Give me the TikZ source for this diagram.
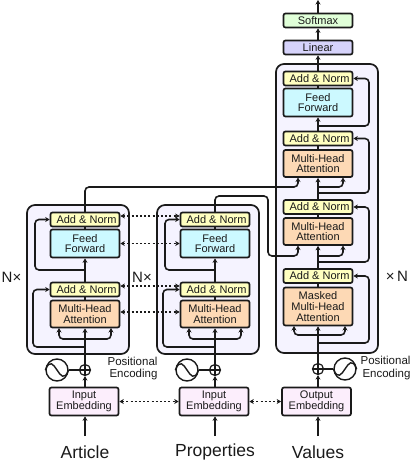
\documentclass[tikz,border=0pt]{standalone}
\usepackage{fontspec}
\setmainfont{Liberation Sans}
\usetikzlibrary{arrows.meta}
\definecolor{inkc}{HTML}{1A1A1A}
\definecolor{framec}{HTML}{F5F3FF}
\definecolor{addfill}{HTML}{FFFFC0}
\definecolor{fffill}{HTML}{CCF9FF}
\definecolor{mhafill}{HTML}{FDD9B5}
\definecolor{embfill}{HTML}{FCEEFC}
\definecolor{linfill}{HTML}{D6D3FB}
\definecolor{softfill}{HTML}{E0FFD8}
\newcommand\addnorm{\hspace*{3pt}Add \& Norm}
\tikzset{
  x=1pt,y=-1pt,
  every node/.style={text=inkc},
  tip/.tip={Stealth[length=4.5pt,width=5pt]},
  basebox/.style={draw=inkc,line width=1.7pt,rounded corners=2pt,inner sep=0pt,align=center,minimum width=69pt,font=\fontsize{11}{10.7}\selectfont},
  addbox/.style={basebox,fill=addfill,minimum height=14pt},
  ffbox/.style={basebox,fill=fffill,minimum height=28pt},
  mhabox/.style={basebox,fill=mhafill,minimum height=27pt},
  embbox/.style={basebox,fill=embfill,minimum height=28pt},
  framebox/.style={draw=inkc,line width=1.7pt,fill=framec,rounded corners=8pt},
  conn/.style={draw=inkc,line width=1.6pt,-{tip}},
  plainconn/.style={draw=inkc,line width=1.6pt},
  route/.style={conn,rounded corners=4pt},
  dots/.style={draw=inkc,line width=1.1pt,{tip}-{tip},dash pattern=on 2pt off 2.2pt},
  sinec/.style={circle,draw=inkc,line width=1.4pt,minimum size=22pt,inner sep=0pt},
  sumc/.style={circle,draw=inkc,line width=1.2pt,minimum size=11pt,inner sep=0pt},
  caption/.style={font=\fontsize{11.5}{12.8}\selectfont,align=right},
  bigtext/.style={font=\fontsize{17.5}{18}\selectfont},
  nlabel/.style={font=\fontsize{15}{15}\selectfont},
}
\begin{document}
\begin{tikzpicture}
\path[use as bounding box] (0,0) rectangle (418,462);

% encoders
\foreach \p/\dx in {a/0,b/130}{
\begin{scope}[shift={(\dx,0)},name prefix=\p-]
  \draw[framebox] (27,205) rectangle (129,354);
  \node[addbox] (an2) at (85,219.5) {\addnorm};
  \node[ffbox] (ff) at (85,243.5) {Feed\\Forward};
  \node[addbox] (an1) at (85,289.5) {\addnorm};
  \node[mhabox] (mha) at (85,314) {Multi-Head\\Attention};
  \node[embbox] (emb) at (84,401.5) {Input\\Embedding};
  \node[sumc] (sum) at (85,370) {};
  \node[sinec] (sin) at (57,370) {};
  \coordinate (in) at (85,436);
  \coordinate (t1) at (85,270);
  \coordinate (t2) at (35,270);
  \coordinate (t3) at (35,219.5);
  \coordinate (l1) at (85,347);
  \coordinate (l2) at (33,347);
  \coordinate (l3) at (33,289.5);
  \coordinate (s0) at (85,339);
  \coordinate (sl) at (59,339);
  \coordinate (sr) at (111,339);
  \coordinate (slt) at (59,328);
  \coordinate (srt) at (111,328);
  \coordinate (exit) at (85,205);
  \draw[conn] (in) -- (emb.south -| in);
  \draw[conn] (emb.north -| sum) -- (sum.south);
  \draw[plainconn] (sum.south) -- (sum.north);
  \draw[plainconn] (sum.west) -- (sum.east);
  \draw[plainconn] (sin.east) -- (sum.west);
  \draw[line width=1.4pt,draw=inkc] (sin.west) .. controls +(9,-22) and +(-9,22) .. (sin.east);
  \draw[conn] (sum.north) -- (mha.south);
  \draw[plainconn] (mha.north) -- (an1.south);
  \draw[conn] (an1.north) -- (ff.south);
  \draw[plainconn] (ff.north) -- (an2.south);
  \draw[plainconn] (an2.north) -- (exit);
  \draw[route] (t1) -- (t2) -- (t3) -- (an2.west);
  \draw[route] (l1) -- (l2) -- (l3) -- (an1.west);
  \draw[route] (s0) -- (sl) -- (slt);
  \draw[route] (s0) -- (sr) -- (srt);
\end{scope}
}

% decoder
\draw[framebox] (276,64) rectangle (378,353);
\node[basebox,fill=softfill,minimum height=14pt] (soft) at (318,20.5) {Softmax};
\node[basebox,fill=linfill,minimum height=14pt] (lin) at (318,47.5) {Linear};
\node[addbox] (d4) at (318,78.5) {\addnorm};
\node[ffbox] (dff) at (318,102.5) {Feed\\Forward};
\node[addbox] (d3) at (318,138.5) {\addnorm};
\node[mhabox] (dm2) at (318,163.5) {Multi-Head\\Attention};
\node[addbox] (d2) at (318,207) {\addnorm};
\node[mhabox] (dm1) at (318,231.5) {Multi-Head\\Attention};
\node[addbox] (d1) at (318,276) {\addnorm};
\node[basebox,fill=mhafill,minimum height=38pt] (dm0) at (318,306.5) {Masked\\Multi-Head\\Attention};
\node[embbox] (oemb) at (316.5,401.5) {Output\\Embedding};
\node[sumc] (osum) at (318,369) {};
\node[sinec] (osin) at (345,369) {};
\coordinate (oin) at (318,436);
\coordinate (top) at (318,0);
\coordinate (dtop) at (318,64);

\draw[conn] (soft.north) -- (top);
\draw[conn] (lin.north) -- (soft.south);
\draw[conn] (dtop) -- (lin.south);
\draw[plainconn] (d4.north) -- (dtop);
\draw[plainconn] (dff.north) -- (d4.south);
\draw[conn] (d3.north) -- (dff.south);
\draw[plainconn] (dm2.north) -- (d3.south);
\draw[plainconn] (dm1.north) -- (d2.south);
\draw[plainconn] (dm0.north) -- (d1.south);
\draw[conn] (d2.north) -- (dm2.south);
\draw[conn] (d1.north) -- (dm1.south);
\draw[conn] (osum.north) -- (dm0.south);
\draw[conn] (oin) -- (oemb.south -| oin);
\draw[conn] (oemb.north -| osum) -- (osum.south);
\draw[plainconn] (osum.south) -- (osum.north);
\draw[plainconn] (osum.west) -- (osum.east);
\draw[plainconn] (osin.west) -- (osum.east);
\draw[line width=1.4pt,draw=inkc] (osin.west) .. controls +(9,22) and +(-9,-22) .. (osin.east);

% decoder residual loops
\coordinate (r4a) at (318,126);
\coordinate (r4b) at (369,126);
\coordinate (r4c) at (369,78.5);
\coordinate (r3a) at (318,193);
\coordinate (r3b) at (369,193);
\coordinate (r3c) at (369,138.5);
\coordinate (r2a) at (318,262);
\coordinate (r2b) at (369,262);
\coordinate (r2c) at (369,207);
\coordinate (r1a) at (318,343);
\coordinate (r1b) at (369,343);
\coordinate (r1c) at (369,276);
\draw[route] (r4a) -- (r4b) -- (r4c) -- (d4.east);
\draw[route] (r3a) -- (r3b) -- (r3c) -- (d3.east);
\draw[route] (r2a) -- (r2b) -- (r2c) -- (d2.east);
\draw[route] (r1a) -- (r1b) -- (r1c) -- (d1.east);

% masked split
\coordinate (m0) at (318,335);
\coordinate (ml) at (294,335);
\coordinate (mr) at (345,335);
\coordinate (mlt) at (294,326);
\coordinate (mrt) at (345,326);
\draw[route] (m0) -- (ml) -- (mlt);
\draw[route] (m0) -- (mr) -- (mrt);

% upper decoder attention inputs
\coordinate (u1) at (85,187);
\coordinate (u2) at (298,187);
\coordinate (u3) at (298,177.5);
\coordinate (u4) at (318,187);
\coordinate (u5) at (343,187);
\coordinate (u6) at (343,177.5);
\draw[route] (a-exit) -- (u1) -- (u2) -- (u3);
\draw[route] (u4) -- (u5) -- (u6);

% lower decoder attention inputs
\coordinate (v1) at (215,196);
\coordinate (v2) at (268,196);
\coordinate (v3) at (268,256);
\coordinate (v4) at (298,256);
\coordinate (v5) at (298,245.5);
\coordinate (v6) at (318,256);
\coordinate (v7) at (343,256);
\coordinate (v8) at (343,245.5);
\draw[route] (b-exit) -- (v1) -- (v2) -- (v3) -- (v4) -- (v5);
\draw[route] (v6) -- (v7) -- (v8);

% dotted cross links
\draw[dots] (a-an2.east |- 0,216) -- (b-an2.west |- 0,216);
\draw[dots] (a-ff.east) -- (b-ff.west);
\draw[dots] (a-an1.east |- 0,286) -- (b-an1.west |- 0,286);
\draw[dots] (a-mha.east |- 0,312) -- (b-mha.west |- 0,312);
\draw[dots] (a-emb.east) -- (b-emb.west);
\draw[dots] (b-emb.east) -- (oemb.west);

% labels
\node[caption,anchor=east] (pa) at (161,368.5) {Positional\\Encoding};
\node[caption,anchor=east] (pb) at (414,368) {Positional\\Encoding};
\node[bigtext] (art) at (85,452) {Article};
\node[bigtext] (prp) at (215,452) {Properties};
\node[bigtext] (val) at (318,452) {Values};
\node[nlabel] (n1) at (11.5,277) {N×};
\node[nlabel] (n2) at (142,277) {N×};
\node[nlabel] (n3) at (397,276) {×\,N};
\end{tikzpicture}
\end{document}
